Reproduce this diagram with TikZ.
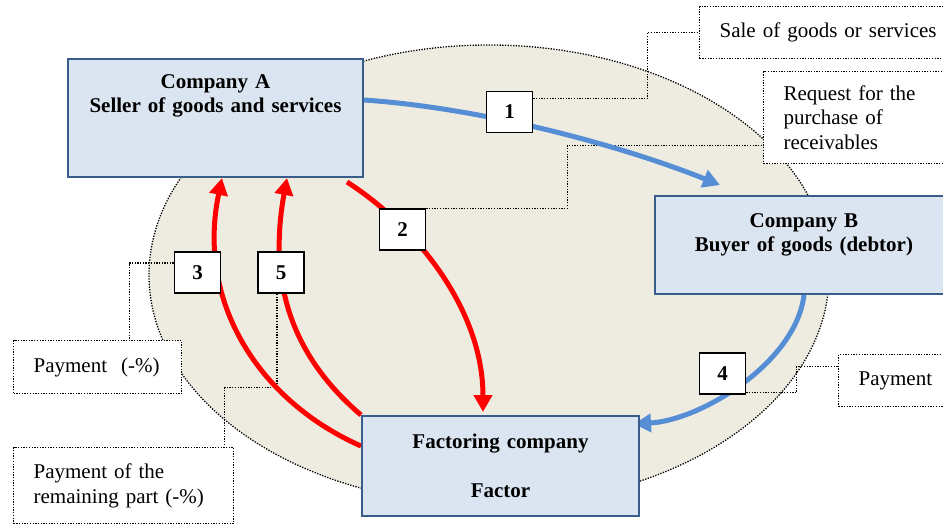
\documentclass[tikz,border=0pt]{standalone}
\usepackage{fontspec}
\setmainfont{Liberation Serif}
\usetikzlibrary{positioning,arrows.meta}
\definecolor{boxblue}{RGB}{219,229,241}
\definecolor{edgeblue}{RGB}{56,93,138}
\definecolor{flowblue}{RGB}{85,142,213}
\definecolor{sand}{RGB}{238,236,225}
\pgfdeclarelayer{back}
\pgfsetlayers{back,main}

\begin{document}
\begin{tikzpicture}[x=1pt,y=-1pt,
    every node/.style={font=\fontsize{21}{24.5}\selectfont},
    firm/.style={draw=edgeblue,line width=2pt,fill=boxblue,anchor=north west,
                 align=center,inner xsep=5pt,font=\fontsize{21}{24.5}\selectfont\bfseries},
    numbox/.style={draw,line width=1.6pt,fill=white,minimum width=46pt,minimum height=41pt,
                   inner sep=0pt,font=\fontsize{21}{24.5}\selectfont\bfseries},
    dotline/.style={line width=1.3pt,dash pattern=on 1.3pt off 1.4pt},
    note/.style={dotline,draw,fill=white,anchor=north west,align=left,inner xsep=20pt},
    flow/.style={line width=5pt,-{Triangle[width=18pt,length=17pt]}}]
  \useasboundingbox (0,0) rectangle (943,524);
  \clip (0,0) rectangle (943,524);

  \node[firm,text width=285pt,minimum height=118pt] (compA) at (67,58)
    {Company A\\Seller of goods and services\\\mbox{}\\\mbox{}};
  \node[firm,text width=288pt,minimum height=98pt] (compB) at (654,195)
    {Company B\\Buyer of goods (debtor)\\\mbox{}};
  \node[firm,text width=267pt,minimum height=100pt] (fac) at (361,415)
    {Factoring company\\\mbox{}\\Factor};

  \node[note,text width=230pt,minimum height=52pt] (sale) at (699,6) {Sale of goods or services};
  \node[note,text width=180pt,minimum height=92pt] (req) at (763,71) {Request for the\\purchase of\\receivables};
  \node[note,text width=128pt,minimum height=53pt] (pay3) at (13,340) {Payment\ \ (-\%)};
  \node[note,text width=180pt,minimum height=76pt] (rem) at (13,447) {Payment of the\\remaining part (-\%)};
  \node[note,text width=100pt,minimum height=52pt] (pay4) at (838,354) {Payment};

  \node[numbox] (n1) at (509.5,112) {1};
  \node[numbox] (n2) at (402.5,229.5) {2};
  \node[numbox] (n3) at (197.5,272.5) {3};
  \node[numbox] (n5) [right=36pt of n3] {5};
  \node[numbox] (n4) at (722.5,373.5) {4};

  \begin{pgfonlayer}{back}
    \draw[dotline,fill=sand] (489,275) ellipse [x radius=340pt,y radius=230pt];

    \draw[dotline] ([yshift=-8pt]n1.north east) -- ++(114,0) |- (sale.west);
    \draw[dotline] (n2.north east) -- ++(141,0) |- ([yshift=-28pt]req.west);
    \draw[dotline] ([yshift=9.5pt]n3.west) -| ([xshift=31.5pt]pay3.north);
    \draw[dotline] ([xshift=-4pt]n5.south) -- ++(0,94) -| ([xshift=101pt]rem.north);
    \draw[dotline] ([yshift=2pt]n4.south east) -- ++(50,0) |- ([yshift=14pt]pay4.west);

    \draw[flow,flowblue] ([yshift=18pt]compA.east)
      .. controls +(118,8) and +(-100,-40) .. ([xshift=66pt,yshift=10pt]compB.north west);
    \draw[flow,flowblue] (compB.south)
      .. controls +(-8,67) and +(68,-4) .. ([xshift=-6pt,yshift=-9pt]fac.north east);
    \draw[flow,red] ([xshift=-17pt,yshift=-4pt]compA.south east)
      .. controls +(70,45) and +(0,-102) .. ([xshift=-17.5pt,yshift=3pt]fac.north);
    \draw[flow,red] ([yshift=20pt]fac.west)
      .. controls +(-102,-45) and +(-26,124) .. ([xshift=6.5pt]compA.south);
    \draw[flow,red] (fac.north west)
      .. controls +(-62,-53) and +(-21,114) .. ([xshift=71.5pt]compA.south);
  \end{pgfonlayer}
\end{tikzpicture}
\end{document}
